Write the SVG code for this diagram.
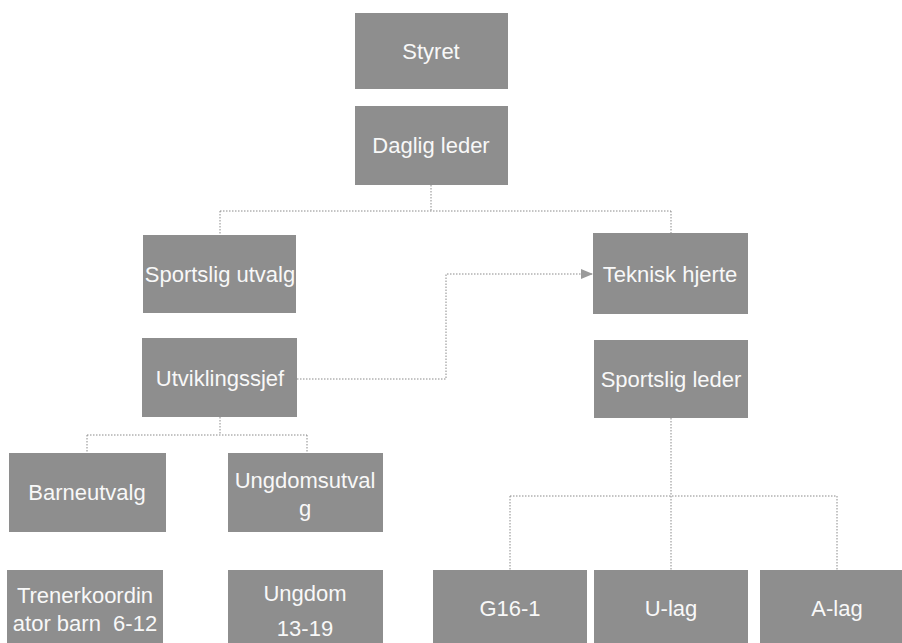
<svg xmlns="http://www.w3.org/2000/svg" width="902" height="643" viewBox="0 0 902 643">
<style>
.box{fill:#8e8e8e;}
.t{font-family:"Liberation Sans",Arial,sans-serif;font-size:22px;fill:#f8f8f8;text-anchor:middle;}
.c{fill:none;stroke:#8a8a8a;stroke-width:1;stroke-dasharray:1.5,1.5;}
</style>
<defs>
<marker id="arr" markerWidth="12" markerHeight="10" refX="11" refY="5" orient="auto" markerUnits="userSpaceOnUse">
<path d="M0,0 L12,5 L0,10 Z" fill="#9a9a9a"/>
</marker>
</defs>
<rect width="902" height="643" fill="#ffffff"/>
<g id="connectors">
<path class="c" d="M431,185 V211 M220,211 H671 M220,211 V235 M671,211 V233"/>
<path class="c" d="M297,379 H446 V274 H592" marker-end="url(#arr)"/>
<path class="c" d="M220,417 V435 M87,435 H307 M87,435 V453 M307,435 V453"/>
<path class="c" d="M671,418 V496 M510,496 H837 M510,496 V570 M671,496 V570 M837,496 V570"/>
</g>
<g id="styret"><rect class="box" x="355" y="13" width="153" height="76"/><text class="t" x="431" y="59">Styret</text></g>
<g id="daglig-leder"><rect class="box" x="355" y="106" width="153" height="79"/><text class="t" x="431" y="153">Daglig leder</text></g>
<g id="sportslig-utvalg"><rect class="box" x="143" y="235" width="153" height="78"/><text class="t" x="220" y="282">Sportslig utvalg</text></g>
<g id="teknisk-hjerte"><rect class="box" x="593" y="233" width="155" height="81"/><text class="t" x="670" y="282">Teknisk hjerte</text></g>
<g id="utviklingssjef"><rect class="box" x="142" y="338" width="155" height="79"/><text class="t" x="220" y="386">Utviklingssjef</text></g>
<g id="sportslig-leder"><rect class="box" x="594" y="340" width="154" height="78"/><text class="t" x="671" y="387">Sportslig leder</text></g>
<g id="barneutvalg"><rect class="box" x="9" y="453" width="157" height="79"/><text class="t" x="87" y="500">Barneutvalg</text></g>
<g id="ungdomsutvalg"><rect class="box" x="228" y="453" width="155" height="79"/><text class="t" x="305" y="488">Ungdomsutval</text><text class="t" x="305" y="516">g</text></g>
<g id="trenerkoordinator"><rect class="box" x="7" y="570" width="156" height="78"/><text class="t" x="85" y="603">Trenerkoordin</text><text class="t" x="85" y="631" xml:space="preserve">ator barn  6-12</text></g>
<g id="ungdom"><rect class="box" x="228" y="570" width="155" height="78"/><text class="t" x="305" y="601">Ungdom</text><text class="t" x="305" y="636">13-19</text></g>
<g id="g16-1"><rect class="box" x="433" y="570" width="154" height="78"/><text class="t" x="510" y="616">G16-1</text></g>
<g id="u-lag"><rect class="box" x="594" y="570" width="154" height="78"/><text class="t" x="671" y="616">U-lag</text></g>
<g id="a-lag"><rect class="box" x="760" y="570" width="154" height="78"/><text class="t" x="837" y="616">A-lag</text></g>
</svg>
